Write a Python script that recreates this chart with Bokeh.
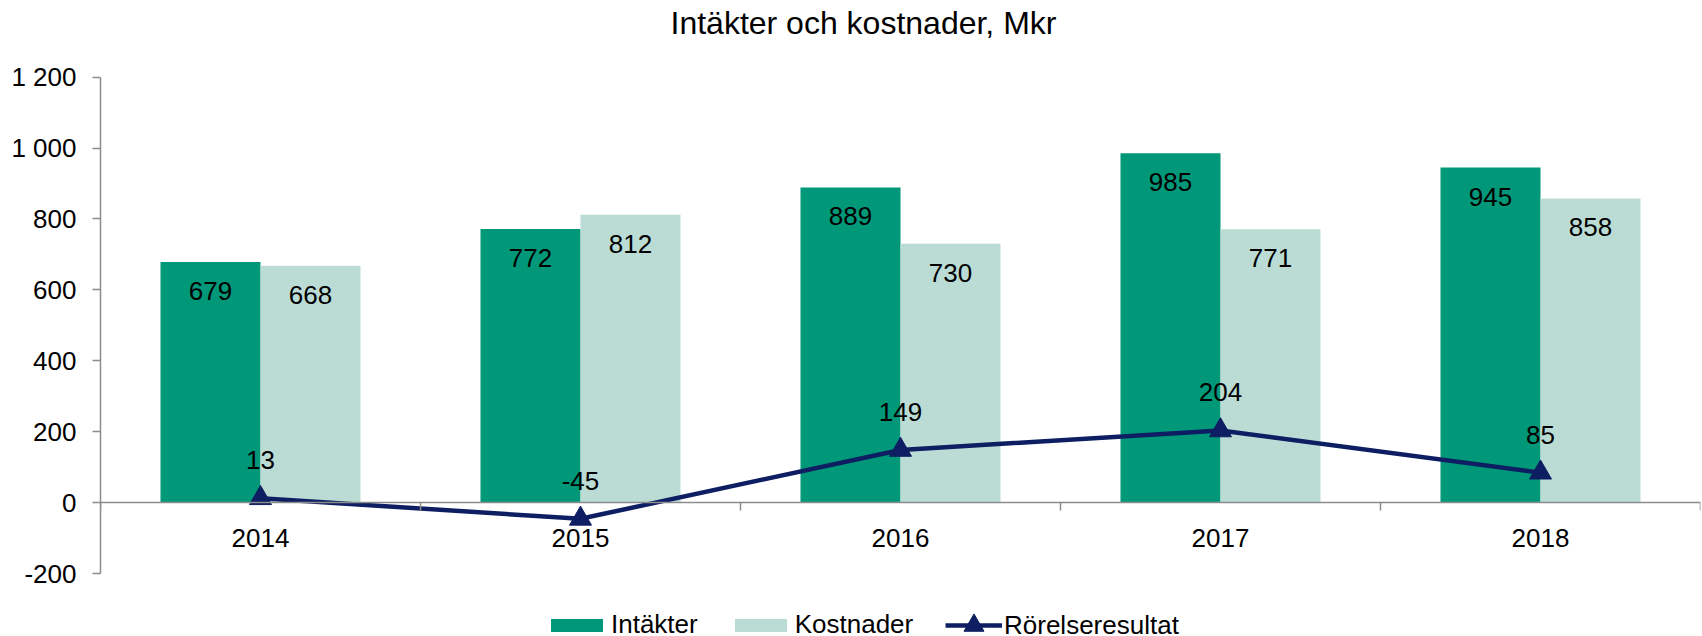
from bokeh.plotting import figure
from bokeh.models import (ColumnDataSource, Range1d, FixedTicker, LinearAxis,
                          Legend, LegendItem, Title)
from bokeh.transform import dodge
from bokeh.core.properties import value
from bokeh.embed import file_html
from bokeh.resources import INLINE

# ---- data ----
years = ["2014", "2015", "2016", "2017", "2018"]
intakter = [679, 772, 889, 985, 945]
kostnader = [668, 812, 730, 771, 858]
resultat = [13, -45, 149, 204, 85]
y_ticks = [-200, 0, 200, 400, 600, 800, 1000, 1200]
y_tick_labels = ["-200", "0", "200", "400", "600", "800", "1 000", "1 200"]

# ---- layout constants (pixels) ----
W, H = 1702, 636
LEFT = 100                   # frame left
AXIS_TOP = 74                # pixel row of the 1200 tick
AXIS_PX = 499                # pixel height of the -200..1200 value span
FRAME_TOP = 43.3             # frame starts right under the title panel
Y_MIN, Y_MAX = -200, 1200
PX_PER_UNIT = AXIS_PX / (Y_MAX - Y_MIN)
EXTRA_BOTTOM = (H - AXIS_TOP - AXIS_PX) / PX_PER_UNIT   # room under -200 for legend
EXTRA_TOP = (AXIS_TOP - FRAME_TOP) / PX_PER_UNIT        # room above 1200
LABEL_PX = 44                # year labels sit this far under the zero line

FONT = "Liberation Sans"
C_INT = "#009878"
C_KOST = "#BADCD5"
C_RES = "#0E1E62"
C_AXIS = "#8C8C8C"

pos = [i + 0.5 for i in range(len(years))]
src = ColumnDataSource(dict(
    pos=pos, intakter=intakter, kostnader=kostnader, resultat=resultat,
    l_int=[str(v) for v in intakter],
    l_kost=[str(v) for v in kostnader],
    l_res=[str(v) for v in resultat],
))

p = figure(width=W, height=H, output_backend="svg", toolbar_location=None,
           x_range=Range1d(0, len(years)),
           y_range=Range1d(Y_MIN - EXTRA_BOTTOM, Y_MAX + EXTRA_TOP),
           x_axis_type=None, y_axis_type=None,
           min_border_left=LEFT, min_border_right=2, min_border_top=0,
           min_border_bottom=0)
p.outline_line_color = None
p.xgrid.visible = False
p.ygrid.visible = False

p.title = Title(text="Intäkter och kostnader, Mkr", align="left", vertical_align="top",
                text_font=FONT, text_font_size="32px", text_font_style="normal",
                text_color="#000000", standoff=8, offset=570)

# y axis (line limited to -200..1200)
yaxis = LinearAxis(ticker=FixedTicker(ticks=y_ticks), bounds=(Y_MIN, Y_MAX),
                   major_label_overrides={t: l for t, l in zip(y_ticks, y_tick_labels)})
yaxis.axis_line_color = C_AXIS
yaxis.axis_line_width = 1.5
yaxis.major_tick_line_color = C_AXIS
yaxis.major_tick_line_width = 1.5
yaxis.major_tick_out = 8
yaxis.major_tick_in = 0
yaxis.minor_tick_line_color = None
yaxis.major_label_standoff = 16
yaxis.major_label_text_font = FONT
yaxis.major_label_text_font_size = "26px"
yaxis.major_label_text_color = "#000000"
p.add_layout(yaxis, "left")

# category axis line at y = 0 with ticks between the categories
xline = LinearAxis(ticker=FixedTicker(ticks=[], minor_ticks=list(range(len(years) + 1))),
                   fixed_location=0)
xline.axis_line_color = C_AXIS
xline.axis_line_width = 1.5
xline.major_tick_line_color = None
xline.major_tick_out = 0
xline.major_tick_in = 0
xline.minor_tick_line_color = C_AXIS
xline.minor_tick_line_width = 1.5
xline.minor_tick_out = 0
xline.minor_tick_in = 8
xline.major_label_standoff = 0
p.add_layout(xline, "above")

# category labels (axis without line, placed under the zero line)
xlab = LinearAxis(ticker=FixedTicker(ticks=pos),
                  major_label_overrides={t: y for t, y in zip(pos, years)},
                  fixed_location=-LABEL_PX / PX_PER_UNIT)
xlab.axis_line_color = None
xlab.major_tick_line_color = None
xlab.minor_tick_line_color = None
xlab.major_tick_out = 0
xlab.major_tick_in = 0
xlab.minor_tick_out = 0
xlab.minor_tick_in = 0
xlab.major_label_standoff = 0
xlab.major_label_text_font = FONT
xlab.major_label_text_font_size = "26px"
xlab.major_label_text_color = "#000000"
p.add_layout(xlab, "above")

BW = 0.3125
r_int = p.vbar(x=dodge("pos", -BW / 2, range=p.x_range), top="intakter", bottom=0,
               width=BW, source=src, fill_color=C_INT, line_color=None)
r_kost = p.vbar(x=dodge("pos", BW / 2, range=p.x_range), top="kostnader", bottom=0,
                width=BW, source=src, fill_color=C_KOST, line_color=None)

p.text(x=dodge("pos", -BW / 2, range=p.x_range), y="intakter", text="l_int", source=src,
       text_font=value(FONT), text_font_size="26px", text_align="center",
       text_baseline="top", y_offset=20, text_color="#000000")
p.text(x=dodge("pos", BW / 2, range=p.x_range), y="kostnader", text="l_kost", source=src,
       text_font=value(FONT), text_font_size="26px", text_align="center",
       text_baseline="top", y_offset=20, text_color="#000000")

r_line = p.line(x="pos", y="resultat", source=src, line_color=C_RES, line_width=4.5)
r_pts = p.scatter(x="pos", y="resultat", source=src, marker="triangle", size=22,
                  fill_color=C_RES, line_color=C_RES)
p.text(x="pos", y="resultat", text="l_res", source=src,
       text_font=value(FONT), text_font_size="26px", text_align="center",
       text_baseline="bottom", y_offset=-29, text_color="#000000")

common = dict(orientation="horizontal", label_standoff=2, spacing=30,
              padding=0, margin=0, border_line_color=None, background_fill_alpha=0,
              label_text_font=FONT, label_text_font_size="26px",
              label_text_color="#000000")
legend_bars = Legend(items=[
    LegendItem(label="Intäkter", renderers=[r_int]),
    LegendItem(label="Kostnader", renderers=[r_kost]),
], location=(444, -4), glyph_width=65, glyph_height=16, **common)
legend_line = Legend(items=[
    LegendItem(label="Rörelseresultat", renderers=[r_line, r_pts]),
], location=(845, -14), glyph_width=57, glyph_height=50, **common)
p.add_layout(legend_bars)
p.add_layout(legend_line)

open("out.html", "w").write(file_html(p, INLINE))
